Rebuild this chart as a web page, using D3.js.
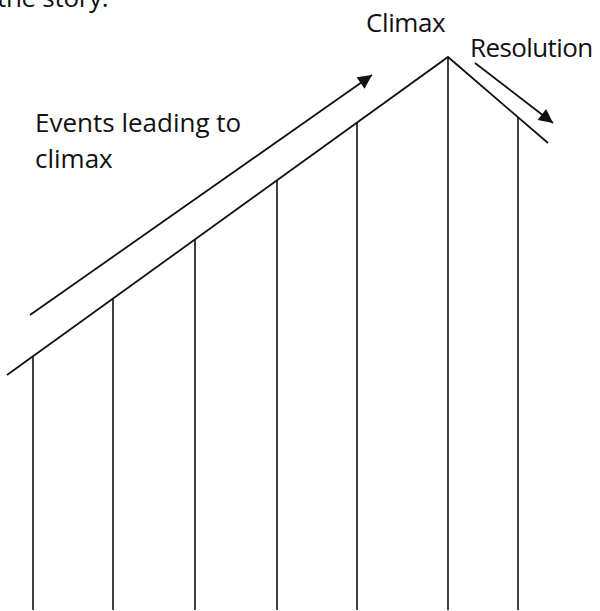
<!DOCTYPE html>
<html>
<head>
<meta charset="utf-8">
<script src="https://cdn.jsdelivr.net/npm/d3@7"></script>
<style>
  html, body { margin: 0; padding: 0; background: #fff; }
  svg { display: block; }
  text { font-family: "Open Sans", "Noto Sans", sans-serif; fill: #111; }
</style>
</head>
<body>
<div id="chart"></div>
<script>
// ---- data (story position t, tension height) ----
const postTime    = [33, 113, 195, 277, 357, 448, 518];
const postTension = [253, 311, 370, 430, 487, 553, 493];
const plotTime    = [7, 448, 548];
const plotTension = [235, 553, 467];
const riseArrowTime    = [30, 372];
const riseArrowTension = [295, 535];
const fallArrowTime    = [475, 553];
const fallArrowTension = [547, 487];
const labels = ["Climax", "Resolution", "Events leading to", "climax", "the story."];

const W = 600, H = 611;
const x = d3.scaleLinear().domain([0, 600]).range([0, 600]);
const y = d3.scaleLinear().domain([0, 610]).range([610, 0]);

const svg = d3.select("#chart").append("svg").attr("width", W).attr("height", H);

svg.append("defs").append("marker")
  .attr("id", "head").attr("viewBox", "0 0 10 10")
  .attr("refX", 10).attr("refY", 5)
  .attr("markerWidth", 16).attr("markerHeight", 14)
  .attr("markerUnits", "userSpaceOnUse")
  .attr("orient", "auto")
  .append("path").attr("d", "M0,0 L10,5 L0,10 Z").attr("fill", "#111");

// vertical posts
svg.selectAll("line.post").data(postTime).join("line")
  .attr("class", "post")
  .attr("x1", d => x(d)).attr("x2", d => x(d))
  .attr("y1", (d, i) => y(postTension[i])).attr("y2", y(0))
  .attr("stroke", "#111").attr("stroke-width", 1.6);

// plot line
const line = d3.line().x(d => x(d[0])).y(d => y(d[1]));
svg.append("path")
  .attr("d", line(plotTime.map((t, i) => [t, plotTension[i]])))
  .attr("fill", "none").attr("stroke", "#111").attr("stroke-width", 1.8)
  .attr("stroke-linejoin", "miter");

// arrows
svg.append("path")
  .attr("d", line(riseArrowTime.map((t, i) => [t, riseArrowTension[i]])))
  .attr("fill", "none").attr("stroke", "#111").attr("stroke-width", 1.8)
  .attr("marker-end", "url(#head)");
svg.append("path")
  .attr("d", line(fallArrowTime.map((t, i) => [t, fallArrowTension[i]])))
  .attr("fill", "none").attr("stroke", "#111").attr("stroke-width", 1.8)
  .attr("marker-end", "url(#head)");

// labels
const fs = 26;
svg.append("text").attr("x", 366).attr("y", 32).attr("font-size", fs).attr("letter-spacing", -0.4).text(labels[0]);
svg.append("text").attr("x", 470).attr("y", 57).attr("font-size", fs).attr("letter-spacing", -0.6).text(labels[1]);
svg.append("text").attr("x", 35).attr("y", 132).attr("font-size", fs).attr("letter-spacing", 0).text(labels[2]);
svg.append("text").attr("x", 35).attr("y", 168).attr("font-size", fs).attr("letter-spacing", 0).text(labels[3]);
svg.append("text").attr("x", -3).attr("y", 7).attr("font-size", fs).attr("letter-spacing", -0.3).text(labels[4]);
</script>
</body>
</html>
